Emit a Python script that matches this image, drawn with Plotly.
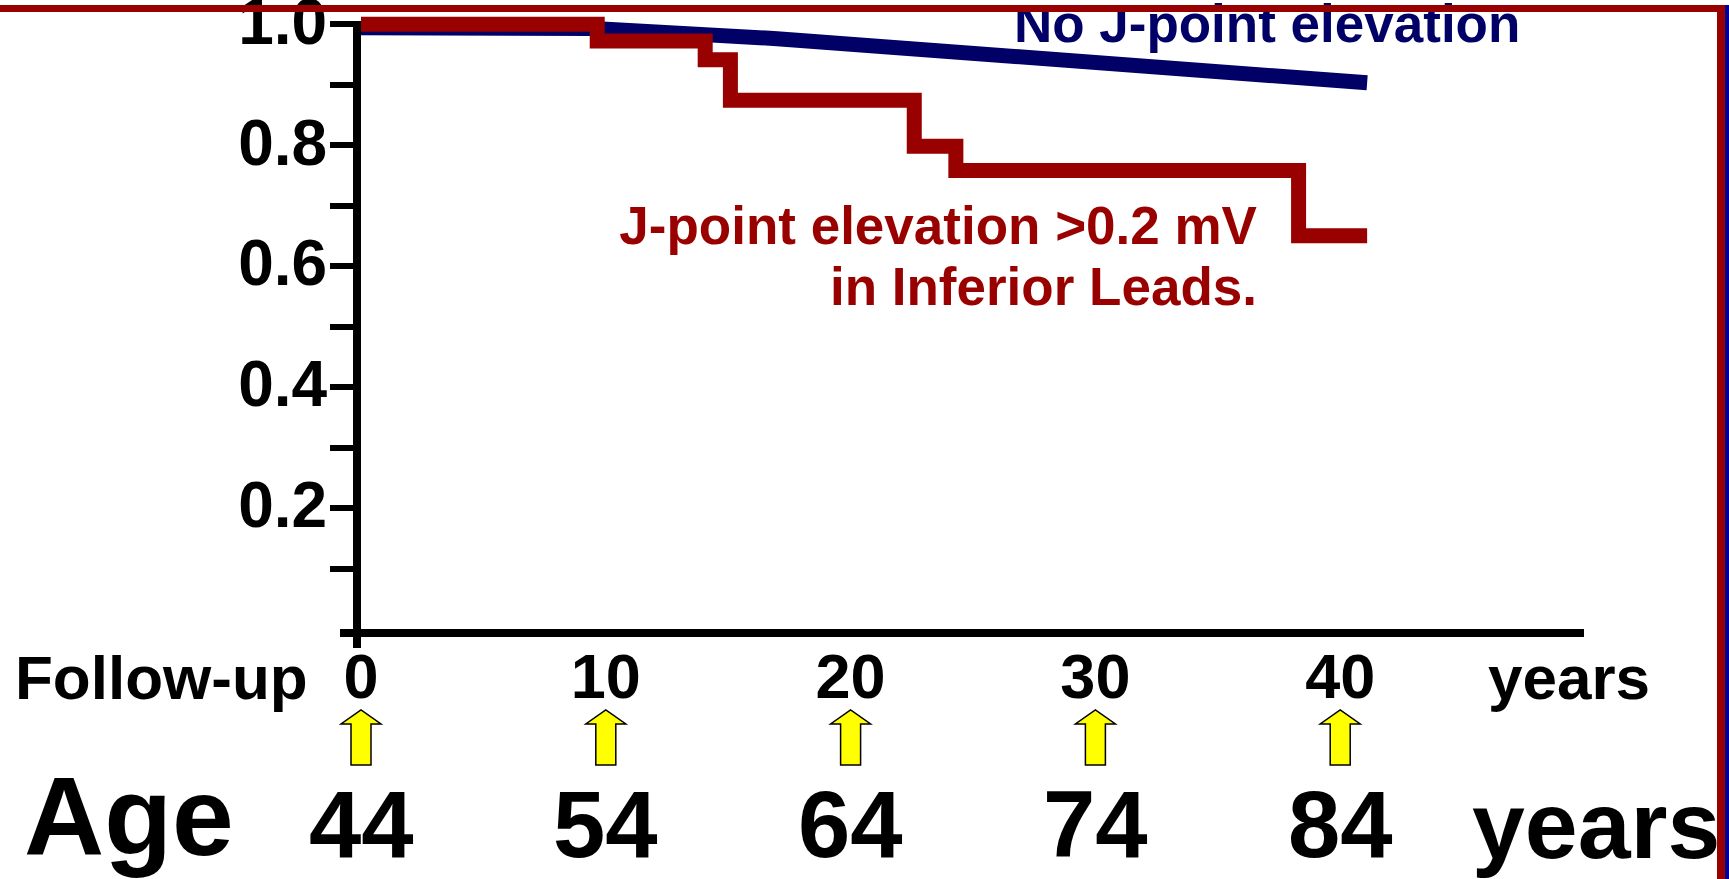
import plotly.graph_objects as go

# ---- data -------------------------------------------------------------
follow_up_years = [0, 10, 20, 30, 40]
age_years = [44, 54, 64, 74, 84]

# J-point elevation >0.2 mV in inferior leads (step survival curve)
t_jpoint = [0, 9.65, 14.06, 15.09, 22.6, 24.3, 38.3, 41.1]
s_jpoint = [1.0, 0.972, 0.941, 0.874, 0.798, 0.758, 0.650, 0.650]

# No J-point elevation
t_none = [0, 9.5, 17.0, 41.1]
s_none = [0.994, 0.993, 0.976, 0.903]

y_tickvals = [0.1, 0.2, 0.3, 0.4, 0.5, 0.6, 0.7, 0.8, 0.9, 1.0]
y_ticktext = ["", "0.2", "", "0.4", "", "0.6", "", "0.8", "", "1.0"]

label_none = "No J-point elevation"
label_jpoint = ["J-point elevation >0.2 mV", "in Inferior Leads."]

# ---- styling / geometry -------------------------------------------------
W, H = 1729, 879
PLOT_L, PLOT_R, PLOT_T, PLOT_B = 361, 1585, 6, 629
X_RANGE = [0, 50]
Y_RANGE = [0, 1.03]

RED = "#990000"
NAVY = "#000066"
BLUE = "#000099"
FONT = "Liberation Sans, Arial, sans-serif"


def px_x(px):
    return (px - PLOT_L) / (PLOT_R - PLOT_L)


def px_y(py):
    return (PLOT_B - py) / (PLOT_B - PLOT_T)


def frac_x(t):
    return (t - X_RANGE[0]) / (X_RANGE[1] - X_RANGE[0])


fig = go.Figure()

fig.add_trace(go.Scatter(
    x=t_none, y=s_none, mode="lines",
    line=dict(color=NAVY, width=15),
    hoverinfo="skip", showlegend=False,
))
fig.add_trace(go.Scatter(
    x=t_jpoint, y=s_jpoint, mode="lines",
    line=dict(color=RED, width=15, shape="hv"),
    hoverinfo="skip", showlegend=False,
))

# curve labels
fig.add_trace(go.Scatter(
    x=[26.67], y=[0.992], mode="text", text=[label_none],
    textposition="middle right",
    textfont=dict(family=FONT, size=53, color=NAVY, weight="bold"),
    cliponaxis=False, hoverinfo="skip", showlegend=False,
))
fig.add_trace(go.Scatter(
    x=[36.6, 36.6], y=[0.659, 0.557], mode="text", text=label_jpoint,
    textposition="middle left",
    textfont=dict(family=FONT, size=53, color=RED, weight="bold"),
    cliponaxis=False, hoverinfo="skip", showlegend=False,
))

shapes = []
# axis lines (y axis runs up to the 1.0 tick, both extend past the origin)
shapes.append(dict(type="line", xref="paper", yref="paper",
                   x0=px_x(357), x1=px_x(357), y0=px_y(648), y1=px_y(21),
                   line=dict(color="black", width=8)))
shapes.append(dict(type="line", xref="paper", yref="paper",
                   x0=px_x(340), x1=px_x(1584), y0=px_y(633), y1=px_y(633),
                   line=dict(color="black", width=8)))

# yellow arrows linking follow-up time to age
plot_w = PLOT_R - PLOT_L
hw = 20 / plot_w
sw = 10 / plot_w
y_top, y_sh, y_bot = px_y(710), px_y(724), px_y(765)
for t in follow_up_years:
    c = frac_x(t)
    path = (f"M{c - sw},{y_bot} L{c - sw},{y_sh} L{c - hw},{y_sh} L{c},{y_top} "
            f"L{c + hw},{y_sh} L{c + sw},{y_sh} L{c + sw},{y_bot} Z")
    shapes.append(dict(type="path", xref="paper", yref="paper", path=path,
                       fillcolor="#FFFF00", line=dict(color="black", width=1.5)))

# slide frame
shapes.append(dict(type="line", xref="paper", yref="paper",
                   x0=px_x(0), x1=px_x(1725), y0=px_y(8.5), y1=px_y(8.5),
                   line=dict(color=RED, width=7)))
shapes.append(dict(type="line", xref="paper", yref="paper",
                   x0=px_x(1721), x1=px_x(1721), y0=px_y(5), y1=px_y(H),
                   line=dict(color=RED, width=8)))
shapes.append(dict(type="line", xref="paper", yref="paper",
                   x0=px_x(1727), x1=px_x(1727), y0=px_y(5), y1=px_y(H),
                   line=dict(color=BLUE, width=4)))

annotations = []


def add_text(text, x, y, size, xanchor="left", xref="paper"):
    annotations.append(dict(
        text=text, x=x, y=y, xref=xref, yref="paper",
        xanchor=xanchor, yanchor="middle", showarrow=False,
        font=dict(family=FONT, size=size, color="black", weight="bold"),
    ))


add_text("Follow-up", px_x(13), px_y(677), 62)
add_text("years", px_x(1486), px_y(677), 62)
add_text("Age", px_x(22), px_y(817), 111)
for t, a in zip(follow_up_years, age_years):
    add_text(str(a), t, px_y(825), 94, xanchor="center", xref="x")
add_text("years", px_x(1470), px_y(825), 95)

fig.update_layout(
    width=W, height=H,
    margin=dict(l=PLOT_L, r=W - PLOT_R, t=PLOT_T, b=H - PLOT_B, pad=0),
    template="none",
    paper_bgcolor="white", plot_bgcolor="white",
    shapes=shapes, annotations=annotations,
    xaxis=dict(
        range=X_RANGE, showgrid=False, zeroline=False, showline=False,
        ticks="", tickvals=follow_up_years,
        ticktext=[str(v) for v in follow_up_years],
        tickfont=dict(family=FONT, size=63, color="black", weight="bold"),
        ticklabelstandoff=5,
        automargin=False,
    ),
    yaxis=dict(
        range=Y_RANGE, showgrid=False, zeroline=False, showline=False,
        ticks="outside", ticklen=30, tickwidth=6, tickcolor="black",
        tickvals=y_tickvals, ticktext=y_ticktext,
        tickfont=dict(family=FONT, size=64, color="black", weight="bold"),
        ticklabelstandoff=-10, ticklabelshift=-3,
        ticklabeloverflow="allow",
        automargin=False,
    ),
)

fig.write_html("out.html", config={"displayModeBar": False})
